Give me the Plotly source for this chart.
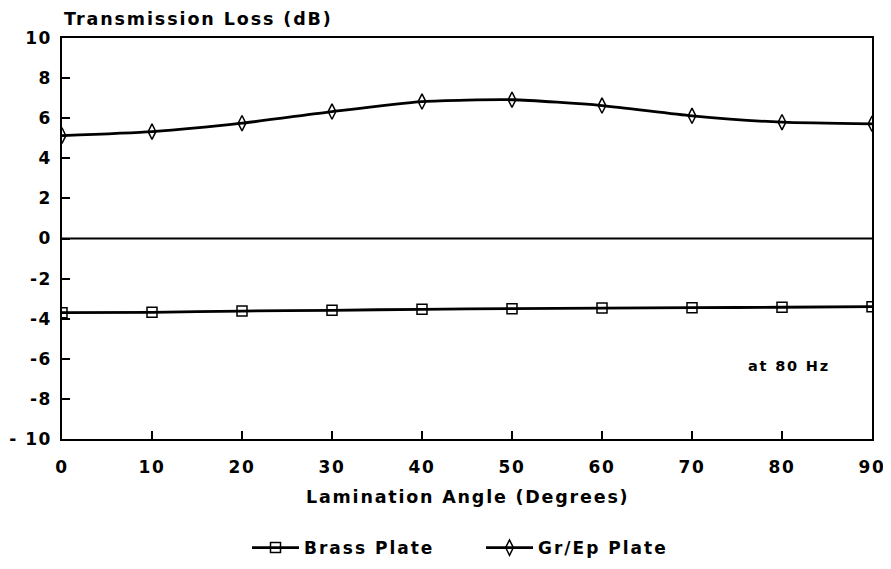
import plotly.graph_objects as go

angles = [0, 10, 20, 30, 40, 50, 60, 70, 80, 90]
brass = [-3.70, -3.68, -3.62, -3.58, -3.53, -3.50, -3.47, -3.45, -3.43, -3.40]
grep = [5.13, 5.33, 5.75, 6.33, 6.83, 6.92, 6.63, 6.12, 5.80, 5.72]

y_ticks = [10, 8, 6, 4, 2, 0, -2, -4, -6, -8, -10]
y_tick_text = ["10", "8", "6", "4", "2", "0", "-2", "-4", "-6", "-8", "- 10"]
x_ticks = [0, 10, 20, 30, 40, 50, 60, 70, 80, 90]

FONT = "DejaVu Sans, Verdana, sans-serif"


def sp(t, ls=1.2):
    return f"<span style='letter-spacing:{ls}px'><b>{t}</b></span>"


fig = go.Figure()
fig.add_trace(go.Scatter(
    x=angles, y=brass, name=sp("Brass Plate", 2), mode="lines+markers",
    line=dict(color="black", width=2.8, shape="spline", smoothing=0.6),
    marker=dict(symbol="square-open", size=10, color="black", line=dict(width=1.5)),
))
fig.add_trace(go.Scatter(
    x=angles, y=grep, name=sp("Gr/Ep Plate", 2), mode="lines+markers",
    line=dict(color="black", width=2.8, shape="spline", smoothing=0.6),
    marker=dict(symbol="diamond-tall-open", size=11, color="black", line=dict(width=1.5)),
))

fig.add_shape(type="line", xref="x", yref="y", x0=0, x1=90, y0=0, y1=0,
              line=dict(color="black", width=1.8))

fig.add_annotation(x=(832 - 62) / 810, y=-6.35, xref="paper", yref="y", text=sp("at 80 Hz", 1.8),
                   showarrow=False, xanchor="right", yanchor="middle",
                   font=dict(family=FONT, size=14.5, color="black"))
fig.add_annotation(x=0, y=1.018, xref="paper", yref="paper", text=sp("Transmission Loss (dB)", 1.9),
                   showarrow=False, xanchor="left", yanchor="bottom",
                   font=dict(family=FONT, size=17.5, color="black"))
fig.add_annotation(x=(467 - 62) / 810, y=-0.1446, xref="paper", yref="paper",
                   text=sp("Lamination Angle (Degrees)", 1.8),
                   showarrow=False, xanchor="center", yanchor="middle",
                   font=dict(family=FONT, size=17.5, color="black"))

fig.update_layout(
    width=883, height=561,
    margin=dict(l=54, r=19, t=30, b=130, autoexpand=False),
    paper_bgcolor="white", plot_bgcolor="white",
    font=dict(family=FONT, size=17, color="black"),
    showlegend=True,
    legend=dict(orientation="h", x=(481 - 62) / 810, xanchor="center", y=-0.272, yanchor="middle",
                font=dict(family=FONT, size=17, color="black"),
                itemwidth=47, traceorder="normal", entrywidth=172),
)
fig.update_xaxes(
    range=[0, 90], tickvals=x_ticks, ticktext=[sp(v, 1.8) for v in x_ticks],
    ticks="inside", ticklen=8, tickwidth=1.5, tickcolor="black",
    showline=True, linecolor="black", linewidth=1.5, mirror=True,
    showgrid=False, zeroline=False, automargin=False, ticklabelstandoff=12,
)
fig.update_yaxes(
    range=[-10, 10], tickvals=y_ticks, ticktext=[sp(t, 1.5) for t in y_tick_text],
    ticks="inside", ticklen=8, tickwidth=1.5, tickcolor="black",
    showline=True, linecolor="black", linewidth=1.5, mirror=True,
    showgrid=False, zeroline=False, automargin=False, ticklabelstandoff=5,
)

fig.write_html("out.html")
